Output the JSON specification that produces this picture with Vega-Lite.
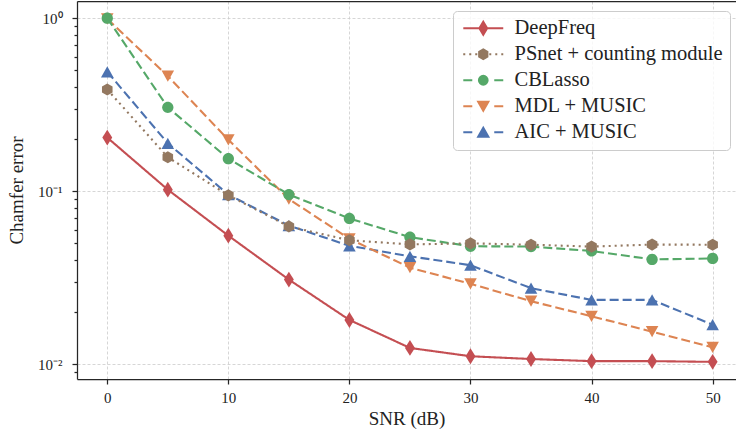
{
  "$schema": "https://vega.github.io/schema/vega-lite/v6.json",
  "width": 659,
  "height": 378,
  "autosize": {"type": "none"},
  "padding": {"left": 77, "top": 1, "right": 0, "bottom": 52},
  "config": {
    "view": {"stroke": null},
    "font": "Liberation Serif",
    "axis": {
      "domainColor": "#262626",
      "domainWidth": 1.25,
      "tickColor": "#262626",
      "tickWidth": 1.25,
      "labelFont": "Liberation Serif",
      "labelFontSize": 15,
      "labelColor": "#222222",
      "titleFont": "Liberation Serif",
      "titleFontSize": 19,
      "titleFontWeight": "normal",
      "titleColor": "#222222",
      "gridColor": "#cccccc",
      "gridDash": [3, 2],
      "gridWidth": 0.8
    }
  },
  "data": {
    "values": [
      {"method": "AIC + MUSIC", "snr": 0, "err": 0.490},
      {"method": "AIC + MUSIC", "snr": 5, "err": 0.189},
      {"method": "AIC + MUSIC", "snr": 10, "err": 0.0955},
      {"method": "AIC + MUSIC", "snr": 15, "err": 0.0632},
      {"method": "AIC + MUSIC", "snr": 20, "err": 0.0483},
      {"method": "AIC + MUSIC", "snr": 25, "err": 0.0420},
      {"method": "AIC + MUSIC", "snr": 30, "err": 0.0373},
      {"method": "AIC + MUSIC", "snr": 35, "err": 0.0275},
      {"method": "AIC + MUSIC", "snr": 40, "err": 0.0235},
      {"method": "AIC + MUSIC", "snr": 45, "err": 0.0235},
      {"method": "AIC + MUSIC", "snr": 50, "err": 0.0169},
      {"method": "MDL + MUSIC", "snr": 0, "err": 0.99},
      {"method": "MDL + MUSIC", "snr": 5, "err": 0.463},
      {"method": "MDL + MUSIC", "snr": 10, "err": 0.198},
      {"method": "MDL + MUSIC", "snr": 15, "err": 0.090},
      {"method": "MDL + MUSIC", "snr": 20, "err": 0.0530},
      {"method": "MDL + MUSIC", "snr": 25, "err": 0.0361},
      {"method": "MDL + MUSIC", "snr": 30, "err": 0.0291},
      {"method": "MDL + MUSIC", "snr": 35, "err": 0.0231},
      {"method": "MDL + MUSIC", "snr": 40, "err": 0.0189},
      {"method": "MDL + MUSIC", "snr": 45, "err": 0.0154},
      {"method": "MDL + MUSIC", "snr": 50, "err": 0.0125},
      {"method": "CBLasso", "snr": 0, "err": 1.0},
      {"method": "CBLasso", "snr": 5, "err": 0.305},
      {"method": "CBLasso", "snr": 10, "err": 0.154},
      {"method": "CBLasso", "snr": 15, "err": 0.0956},
      {"method": "CBLasso", "snr": 20, "err": 0.0695},
      {"method": "CBLasso", "snr": 25, "err": 0.0542},
      {"method": "CBLasso", "snr": 30, "err": 0.0480},
      {"method": "CBLasso", "snr": 35, "err": 0.0478},
      {"method": "CBLasso", "snr": 40, "err": 0.0451},
      {"method": "CBLasso", "snr": 45, "err": 0.0403},
      {"method": "CBLasso", "snr": 50, "err": 0.0408},
      {"method": "PSnet + counting module", "snr": 0, "err": 0.387},
      {"method": "PSnet + counting module", "snr": 5, "err": 0.157},
      {"method": "PSnet + counting module", "snr": 10, "err": 0.0946},
      {"method": "PSnet + counting module", "snr": 15, "err": 0.0625},
      {"method": "PSnet + counting module", "snr": 20, "err": 0.0520},
      {"method": "PSnet + counting module", "snr": 25, "err": 0.0492},
      {"method": "PSnet + counting module", "snr": 30, "err": 0.0499},
      {"method": "PSnet + counting module", "snr": 35, "err": 0.0490},
      {"method": "PSnet + counting module", "snr": 40, "err": 0.0478},
      {"method": "PSnet + counting module", "snr": 45, "err": 0.0491},
      {"method": "PSnet + counting module", "snr": 50, "err": 0.0490},
      {"method": "DeepFreq", "snr": 0, "err": 0.204},
      {"method": "DeepFreq", "snr": 5, "err": 0.102},
      {"method": "DeepFreq", "snr": 10, "err": 0.0553},
      {"method": "DeepFreq", "snr": 15, "err": 0.0308},
      {"method": "DeepFreq", "snr": 20, "err": 0.0180},
      {"method": "DeepFreq", "snr": 25, "err": 0.0124},
      {"method": "DeepFreq", "snr": 30, "err": 0.0111},
      {"method": "DeepFreq", "snr": 35, "err": 0.0107},
      {"method": "DeepFreq", "snr": 40, "err": 0.0104},
      {"method": "DeepFreq", "snr": 45, "err": 0.0104},
      {"method": "DeepFreq", "snr": 50, "err": 0.0103}
    ]
  },
  "layer": [
    {
      "mark": {"type": "line", "strokeWidth": 2.1},
      "encoding": {
        "x": {
          "field": "snr", "type": "quantitative",
          "scale": {"domain": [-2.5, 51.93], "nice": false, "zero": false},
          "axis": {
            "values": [0, 10, 20, 30, 40, 50],
            "grid": true, "tickSize": 5, "labelPadding": 6,
            "title": "SNR (dB)", "titlePadding": 4, "labelFlush": false
          }
        },
        "y": {
          "field": "err", "type": "quantitative",
          "scale": {"type": "log", "domain": [0.0082, 1.257], "nice": false},
          "axis": {
            "title": "Chamfer error",
            "titlePadding": 11,
            "values": [0.009, 0.01, 0.02, 0.03, 0.04, 0.05, 0.06, 0.07, 0.08, 0.09, 0.1, 0.2, 0.3, 0.4, 0.5, 0.6, 0.7, 0.8, 0.9, 1],
            "labelOverlap": false,
            "labelPadding": 10,
            "labelExpr": "abs(log(datum.value)/LN10 - round(log(datum.value)/LN10)) < 0.001 ? (round(log(datum.value)/LN10) == 0 ? '10⁰' : (round(log(datum.value)/LN10) == -1 ? '10⁻¹' : '10⁻²')) : ''",
            "grid": true,
            "gridOpacity": {"condition": {"test": "abs(log(datum.value)/LN10 - round(log(datum.value)/LN10)) < 0.001", "value": 1}, "value": 0},
            "tickSize": {"condition": {"test": "abs(log(datum.value)/LN10 - round(log(datum.value)/LN10)) < 0.001", "value": 5}, "value": 3}
          }
        },
        "color": {
          "field": "method", "type": "nominal",
          "scale": {
            "domain": ["DeepFreq", "PSnet + counting module", "CBLasso", "MDL + MUSIC", "AIC + MUSIC"],
            "range": ["#C44E52", "#937860", "#55A868", "#DD8452", "#4C72B0"]
          },
          "legend": null
        },
        "strokeDash": {
          "field": "method", "type": "nominal",
          "scale": {
            "domain": ["DeepFreq", "PSnet + counting module", "CBLasso", "MDL + MUSIC", "AIC + MUSIC"],
            "range": [[1, 0], [2, 4], [9, 4], [9, 4], [9, 4]]
          },
          "legend": null
        }
      }
    },
    {
      "mark": {"type": "point", "filled": true, "size": 175, "opacity": 1, "strokeWidth": 0},
      "encoding": {
        "x": {"field": "snr", "type": "quantitative", "axis": null},
        "y": {"field": "err", "type": "quantitative"},
        "color": {"field": "method", "type": "nominal", "legend": null},
        "shape": {
          "field": "method", "type": "nominal",
          "scale": {
            "domain": ["DeepFreq", "PSnet + counting module", "CBLasso", "MDL + MUSIC", "AIC + MUSIC"],
            "range": [
              "M0,-1.2L0.75,0L0,1.2L-0.75,0Z",
              "M0,-0.92L0.8,-0.46L0.8,0.46L0,0.92L-0.8,0.46L-0.8,-0.46Z",
              "M0.85,0A0.85,0.85 0 1,1 -0.85,0A0.85,0.85 0 1,1 0.85,0Z",
              "M-0.95,-0.85L0.95,-0.85L0,0.85Z",
              "M0,-0.85L0.95,0.85L-0.95,0.85Z"
            ]
          },
          "legend": null
        }
      }
    },
    {
      "mark": {"type": "point", "filled": true, "size": 144, "opacity": 0},
      "encoding": {
        "x": {
          "field": "snr", "type": "quantitative",
          "axis": {"orient": "top", "labels": false, "ticks": false, "grid": false, "title": null, "domain": true}
        },
        "y": {"field": "err", "type": "quantitative"},
        "color": {"field": "method", "type": "nominal", "legend": null},
        "shape": {
          "field": "method", "type": "nominal",
          "scale": {
            "domain": ["DeepFreq", "PSnet + counting module", "CBLasso", "MDL + MUSIC", "AIC + MUSIC"],
            "range": [
              "M-1.16,0H5.5M2.17,-1.1L2.82,0L2.17,1.1L1.52,0Z",
              "M-1.17,0H-0.83M-0.17,0H0.17M0.83,0H1.17M3.17,0H3.5M4.17,0H4.5M5.17,0H5.5M2.17,-0.8L2.86,-0.4L2.86,0.4L2.17,0.8L1.48,0.4L1.48,-0.4Z",
              "M-1.16,0H0.34M4.0,0H5.5M2.9,0A0.73,0.73 0 1,1 1.44,0A0.73,0.73 0 1,1 2.9,0Z",
              "M-1.16,0H0.34M4.0,0H5.5M1.32,-0.75L3.02,-0.75L2.17,0.75Z",
              "M-1.16,0H0.34M4.0,0H5.5M2.17,-0.75L3.02,0.75L1.32,0.75Z"
            ]
          },
          "legend": {
            "title": null,
            "orient": "none",
            "legendX": 376,
            "legendY": 10,
            "padding": 7,
            "rowPadding": 5,
            "symbolSize": 144,
            "symbolStrokeWidth": 2,
            "symbolOpacity": 1,
            "symbolFillColor": {"expr": "scale('color', datum.value)"},
            "symbolStrokeColor": {"expr": "scale('color', datum.value)"},
            "labelOffset": 34,
            "labelFont": "Liberation Serif",
            "labelFontSize": 20.5,
            "labelColor": "#222222",
            "labelLimit": 400,
            "fillColor": "rgba(255,255,255,0.8)",
            "strokeColor": "#cccccc",
            "cornerRadius": 4
          }
        }
      }
    }
  ],
  "resolve": {"scale": {"shape": "independent"}, "axis": {"x": "independent"}}
}
